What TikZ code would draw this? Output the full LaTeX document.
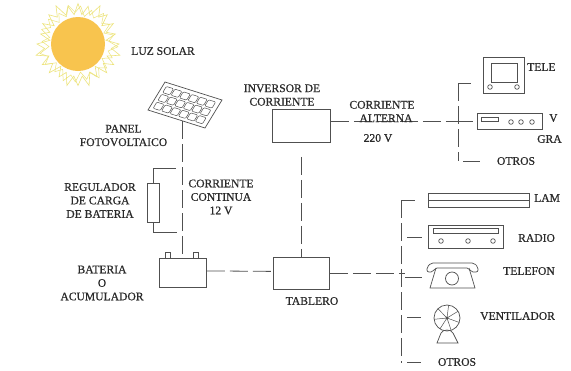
\documentclass[tikz,border=0pt]{standalone}
\usepackage{fontspec}
\setmainfont{Liberation Serif}
\newfontfamily\lblfont{Liberation Serif}[FakeBold=0.6]
\definecolor{ln}{HTML}{505050}
\definecolor{txt}{HTML}{2A2A2A}
\definecolor{sunfill}{HTML}{F8C44E}
\definecolor{sunray}{HTML}{EDE47C}
\begin{document}
\begin{tikzpicture}[x=1pt,y=-1pt,
  lbl/.style={font=\lblfont\fontsize{11.6}{13.5}\selectfont, text=txt, align=center, inner sep=0pt},
  box/.style={draw=ln, line width=0.8pt, inner sep=0pt, anchor=north west},
  wire/.style={draw=ln, line width=0.8pt, dash pattern=on 18pt off 5pt},
  stub/.style={draw=ln, line width=0.8pt},
  icon/.style={draw=ln, line width=0.7pt}]
\fill[white] (0,0) rectangle (571,370);
\useasboundingbox (0,0) rectangle (571,370);

% ---- sun ----
\draw[sunray, line width=0.6pt] plot[samples=49, domain=0:360, variable=\t]
  ({78+(36+5*cos(24*\t)+2*sin(5*\t)+1.5*sin(11*\t))*cos(\t)},
   {44+(36+5*cos(24*\t)+2*sin(5*\t)+1.5*sin(11*\t))*sin(\t)}) -- cycle;
\draw[sunray, line width=0.5pt] plot[samples=41, domain=0:360, variable=\t]
  ({78+(34+4*cos(20*\t)+2*cos(7*\t))*cos(\t+4)},
   {44+(34+4*cos(20*\t)+2*cos(7*\t))*sin(\t+4)}) -- cycle;
\fill[sunfill] (78,44) circle[radius=27pt];
\node[lbl] (luz) at (163,51) {LUZ SOLAR};

% ---- solar panel ----
\coordinate (pA) at (165,82);
\coordinate (pB) at (222,100);
\coordinate (pC) at (205,128);
\coordinate (pD) at (148,110);
\draw[icon, fill=white] (pA) -- (pB) -- (pC) -- (pD) -- cycle;
\foreach \c in {0,...,5}{
  \foreach \r in {0,...,2}{
    \pgfmathsetmacro\ua{0.06+\c*0.148}
    \pgfmathsetmacro\ub{\ua+0.125}
    \pgfmathsetmacro\va{0.1+\r*0.28}
    \pgfmathsetmacro\vb{\va+0.22}
    \draw[icon, line width=0.5pt, rounded corners=1pt]
      ({148+57*\ua+17*\va},{110+18*\ua-28*\va}) --
      ({148+57*\ub+17*\va},{110+18*\ub-28*\va}) --
      ({148+57*\ub+17*\vb},{110+18*\ub-28*\vb}) --
      ({148+57*\ua+17*\vb},{110+18*\ua-28*\vb}) -- cycle;
  }
}
\coordinate (pole) at (182,121);
\node[lbl] (panel) at (123.5,135.5) {PANEL\\FOTOVOLTAICO};

% ---- charge regulator ----
\node[box, minimum width=12pt, minimum height=39pt] (reg) at (147,183) {};
\coordinate (regA) at (176,168);
\coordinate (regB) at (177,232);
\draw[stub] (reg.north) |- (regA);
\draw[stub] (reg.south) |- (regB);
\node[lbl] (regtxt) at (100,200.5) {REGULADOR\\DE CARGA\\DE BATERIA};
\node[lbl] (cc) at (221,197) {CORRIENTE\\CONTINUA\\12 V};

% ---- battery ----
\node[box, minimum width=47pt, minimum height=29pt] (bat) at (159,258) {};
\draw[icon] (165,258) rectangle (170,252);
\draw[icon] (193,258) rectangle (198,252);
\node[lbl] (battxt) at (102,283) {BATERIA\\O\\ACUMULADOR};
\draw[wire] (pole) -- (pole |- bat.north);

% ---- inverter ----
\node[box, minimum width=58pt, minimum height=33pt] (inv) at (272,109) {};
\node[lbl] (invtxt) at (282,95) {INVERSOR DE\\CORRIENTE};

% ---- distribution board ----
\node[box, minimum width=56pt, minimum height=32pt] (tab) at (273,257) {};
\node[lbl] (tabtxt) at (312,301) {TABLERO};
\draw[wire] ([yshift=2pt]bat.east) -- ([yshift=2pt]tab.west);
\draw[wire] ([yshift=-14pt]inv.south) -- (inv.south |- tab.north);

% ---- AC loads ----
\node[box, minimum width=41pt, minimum height=36pt] (tv) at (483,57) {};
\draw[icon] (491,63) rectangle (517,82);
\draw[icon] (490,87) circle[radius=2.3pt];
\draw[icon] (517,87) circle[radius=2.3pt];
\node[box, minimum width=65pt, minimum height=16pt] (vcr) at (477,113) {};
\draw[icon] (481,117) rectangle (498,121);
\foreach \x in {511,521,532} \draw[icon] (\x,122) circle[radius=2.3pt];

\coordinate (ut) at (458,83);
\coordinate (ub) at (458,161);
\draw[wire] (ut) -- (ub);
\draw[stub] (ut) -- ++(13,0);
\draw[wire] (inv.east |- vcr.west) -- (ut |- vcr.west);
\draw[stub] (ut |- vcr.west) -- ([xshift=-4pt]vcr.west);
\draw[stub] ([xshift=5pt]ub) -- ++(17,0);
\node[lbl] (ca) at (382,111.5) {CORRIENTE\\\hspace*{8pt}ALTERNA};
\node[lbl] (v220) at (378,138) {220 V};
\node[lbl] (otros1) at (516,161) {OTROS};

% ---- DC loads ----
\node[box, minimum width=101pt, minimum height=14pt] (lamp) at (428,193) {};
\draw[icon] (lamp.west) -- (lamp.east);
\node[box, minimum width=75pt, minimum height=23pt] (radio) at (428,225) {};
\draw[icon] (433,228.5) rectangle (498,233.5);
\foreach \x in {441,468,493} \draw[icon] (\x,241) circle[radius=2.3pt];

% telephone
\draw[icon, rounded corners=2pt] (427,272) -- (427,267) -- (431,263) -- (474,263)
  -- (478,267) -- (478,272) -- (471,272) -- (469,268) -- (435,268) -- (433,272) -- cycle;
\draw[icon] (436,268) -- (430,288) -- (475,288) -- (469,268);
\draw[icon] (452,278.5) circle[radius=6.5pt];

% fan
\draw[icon] (447,318) circle[radius=13pt];
\foreach \k in {0,...,6}
  \draw[icon, line width=0.5pt] (447,318) -- ++({13*cos(20+\k*51.43)},{13*sin(20+\k*51.43)});
\fill[ln] (447,318) circle[radius=1.6pt];
\draw[icon] (437,343) -- (441,333) .. controls (443,329) and (451,329) .. (453,333) -- (458,343) -- cycle;

\coordinate (lt) at (401,200);
\coordinate (lb) at (401,363);
\draw[wire] (lt) -- (lb);
\draw[wire] (tab.east) -- ([xshift=4pt]tab.east -| lt);
\draw[stub] (lt) -- ++(14,0);
\draw[stub] ([xshift=6pt]lt |- radio.west) -- ([xshift=-6pt]radio.west);
\draw[stub] (405,277) -- (422,277);
\draw[stub] (407,317) -- (421,317);
\draw[stub] (407,362) -- (421,362);
\node[lbl] (otros2) at (457,362) {OTROS};

% ---- device names at the right margin ----
\node[lbl, anchor=west] (tvtxt) at (527,67) {TELE};
\node[lbl, anchor=west] (vcrtxt1) at (549,118) {V};
\node[lbl, anchor=west] (vcrtxt2) at (537,139) {GRA};
\node[lbl, anchor=west] (lamptxt) at (534,198) {LAM};
\node[lbl, anchor=west] (radiotxt) at (518,238) {RADIO};
\node[lbl, anchor=west] (teltxt) at (503,271) {TELEFON};
\node[lbl, anchor=west] (fantxt) at (480,316) {VENTILADOR};
\end{tikzpicture}
\end{document}
